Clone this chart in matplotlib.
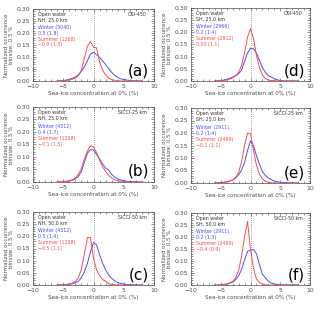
import matplotlib
matplotlib.use("Agg")
import matplotlib.pyplot as plt
import numpy as np

x = np.arange(-6, 8.01, 0.5)

# panel data
labels = ["(a)", "(b)", "(c)", "(d)", "(e)", "(f)"]
hemis = ["NH, 25.0 km", "NH, 25.0 km", "NH, 50.0 km", "SH, 25.0 km", "SH, 25.0 km", "SH, 50.0 km"]
products = ["OSI-450", "SICCI-25 km", "SICCI-50 km", "OSI-450", "SICCI-25 km", "SICCI-50 km"]
winter_text = ["Winter (5040)", "Winter (4312)", "Winter (4312)", "Winter (2966)", "Winter (2911)", "Winter (2911)"]
winter_stats = ["0.5 (1.8)", "0.4 (1.7)", "0.5 (1.4)", "0.2 (1.4)", "0.2 (1.4)", "0.2 (1.3)"]
summer_text = ["Summer (1268)", "Summer (1268)", "Summer (1268)", "Summer (2912)", "Summer (2489)", "Summer (2489)"]
summer_stats = ["\u22120.0 (1.3)", "\u22120.1 (1.5)", "\u22120.5 (1.1)", "0.00 (1.1)", "\u22120.1 (1.1)", "\u22120.4 (0.9)"]

winter_a = [0, 0.001, 0.002, 0.004, 0.007, 0.011, 0.017, 0.026, 0.040, 0.060, 0.085, 0.112, 0.120, 0.110, 0.098,
            0.085, 0.068, 0.052, 0.036, 0.024, 0.015, 0.009, 0.006, 0.004, 0.002, 0.001, 0.001, 0, 0]
summer_a = [0, 0, 0.001, 0.002, 0.004, 0.007, 0.012, 0.022, 0.045, 0.095, 0.145, 0.165, 0.140, 0.138, 0.080,
            0.045, 0.025, 0.012, 0.006, 0.003, 0.001, 0, 0, 0, 0, 0, 0, 0, 0]
winter_b = [0, 0, 0.001, 0.002, 0.004, 0.007, 0.012, 0.022, 0.042, 0.080, 0.115, 0.130, 0.128, 0.110, 0.092,
            0.072, 0.056, 0.048, 0.030, 0.020, 0.012, 0.008, 0.005, 0.003, 0.002, 0.001, 0.001, 0, 0]
summer_b = [0, 0.001, 0.002, 0.003, 0.005, 0.009, 0.016, 0.030, 0.055, 0.092, 0.125, 0.145, 0.140, 0.118, 0.088,
            0.062, 0.042, 0.027, 0.016, 0.009, 0.005, 0.003, 0.002, 0.001, 0.001, 0, 0, 0, 0]
winter_c = [0, 0, 0.001, 0.002, 0.003, 0.005, 0.009, 0.016, 0.030, 0.055, 0.090, 0.135, 0.175, 0.165, 0.125,
            0.090, 0.062, 0.042, 0.027, 0.017, 0.010, 0.006, 0.004, 0.002, 0.001, 0.001, 0, 0, 0]
summer_c = [0, 0, 0.001, 0.002, 0.004, 0.008, 0.015, 0.030, 0.065, 0.130, 0.195, 0.195, 0.110, 0.062, 0.040,
            0.022, 0.016, 0.005, 0.002, 0.001, 0, 0, 0, 0, 0, 0, 0, 0, 0]
winter_d = [0, 0.001, 0.002, 0.004, 0.007, 0.011, 0.016, 0.022, 0.030, 0.045, 0.080, 0.115, 0.135, 0.132, 0.115,
            0.085, 0.055, 0.035, 0.022, 0.016, 0.010, 0.005, 0.002, 0.001, 0, 0, 0, 0, 0]
summer_d = [0, 0, 0.001, 0.002, 0.004, 0.008, 0.013, 0.022, 0.035, 0.065, 0.115, 0.180, 0.215, 0.175, 0.105,
            0.055, 0.025, 0.010, 0.004, 0.002, 0.001, 0, 0, 0, 0, 0, 0, 0, 0]
winter_e = [0, 0.001, 0.002, 0.003, 0.005, 0.008, 0.012, 0.020, 0.032, 0.052, 0.082, 0.130, 0.168, 0.150, 0.110,
            0.075, 0.046, 0.030, 0.020, 0.013, 0.008, 0.005, 0.003, 0.002, 0.001, 0.001, 0.001, 0, 0]
summer_e = [0, 0, 0.001, 0.002, 0.004, 0.007, 0.012, 0.022, 0.042, 0.085, 0.150, 0.200, 0.198, 0.130, 0.072,
            0.035, 0.016, 0.007, 0.003, 0.001, 0, 0, 0, 0, 0, 0, 0, 0, 0]
winter_f = [0, 0, 0.001, 0.002, 0.004, 0.007, 0.012, 0.022, 0.038, 0.065, 0.105, 0.140, 0.145, 0.148, 0.130,
            0.085, 0.045, 0.030, 0.016, 0.008, 0.004, 0.002, 0.001, 0, 0, 0, 0, 0, 0]
summer_f = [0, 0, 0.001, 0.002, 0.004, 0.008, 0.015, 0.030, 0.060, 0.120, 0.200, 0.265, 0.150, 0.070, 0.025,
            0.010, 0.004, 0.001, 0, 0, 0, 0, 0, 0, 0, 0, 0, 0, 0]

winters = [winter_a, winter_b, winter_c, winter_d, winter_e, winter_f]
summers = [summer_a, summer_b, summer_c, summer_d, summer_e, summer_f]

BLUE = "#4b4bff"
RED = "#ff4b4b"
W, H = 320, 310
fig = plt.figure(figsize=(W / 100, H / 100), dpi=100)

# pixel boxes (left, top, right, bottom)
boxes = [(33, 9, 154, 81), (33, 107, 154, 182), (33, 212, 154, 285),
         (191, 8, 310, 81), (191, 108, 310, 183), (191, 213, 310, 285)]

fs = 4.4
ts = 3.4
for i in range(6):
    l, t, r, b = boxes[i]
    ax = fig.add_axes([l / W, 1 - b / H, (r - l) / W, (b - t) / H])
    ax.plot(x, winters[i], color=BLUE, lw=0.7)
    ax.plot(x, summers[i], color=RED, lw=0.7)
    ax.axvline(0, color="0.5", lw=0.6, ls=(0, (1, 1.5)))
    ax.set_xlim(-10, 10)
    ax.set_ylim(0, 0.30)
    ax.set_xticks([-10, -5, 0, 5, 10])
    ax.set_xticks(np.arange(-10, 10.1, 1), minor=True)
    ax.set_yticks(np.arange(0, 0.301, 0.05))
    ax.set_yticks(np.arange(0, 0.301, 0.01), minor=True)
    ax.yaxis.set_major_formatter(matplotlib.ticker.FormatStrFormatter("%.2f"))
    ax.tick_params(which="both", direction="in", top=True, right=True, labelsize=fs, width=0.4,
                   pad=2, colors="0.25", labelcolor="0.3")
    ax.tick_params(which="major", length=2.5)
    ax.tick_params(which="minor", length=1.2)
    for s in ax.spines.values():
        s.set_linewidth(0.5)
        s.set_color("0.3")
    ax.set_xlabel("Sea-ice concentration at 0% (%)", fontsize=4.1, labelpad=1.5, color="0.3")
    ax.set_ylabel("Normalized occurrence\nbinsize: 0.5 %", fontsize=4.0, labelpad=2, color="0.3",
                  linespacing=1.0)
    tx = 0.045
    ax.text(tx, 0.93, "Open water", transform=ax.transAxes, fontsize=ts, color="0.2", va="center")
    ax.text(tx, 0.85, hemis[i], transform=ax.transAxes, fontsize=ts, color="0.2", va="center")
    ax.text(tx, 0.74, winter_text[i], transform=ax.transAxes, fontsize=ts, color=BLUE, va="center")
    ax.text(tx, 0.66, winter_stats[i], transform=ax.transAxes, fontsize=ts, color=BLUE, va="center")
    ax.text(tx, 0.58, summer_text[i], transform=ax.transAxes, fontsize=ts, color=RED, va="center")
    ax.text(tx, 0.50, summer_stats[i], transform=ax.transAxes, fontsize=ts, color=RED, va="center")
    ax.text(0.94, 0.93, products[i], transform=ax.transAxes, fontsize=ts, color="0.2", va="center",
            ha="right")
    ax.text(0.96, 0.04, labels[i], transform=ax.transAxes, fontsize=11, color="black", va="bottom",
            ha="right")

fig.savefig("out.png", dpi=100)
